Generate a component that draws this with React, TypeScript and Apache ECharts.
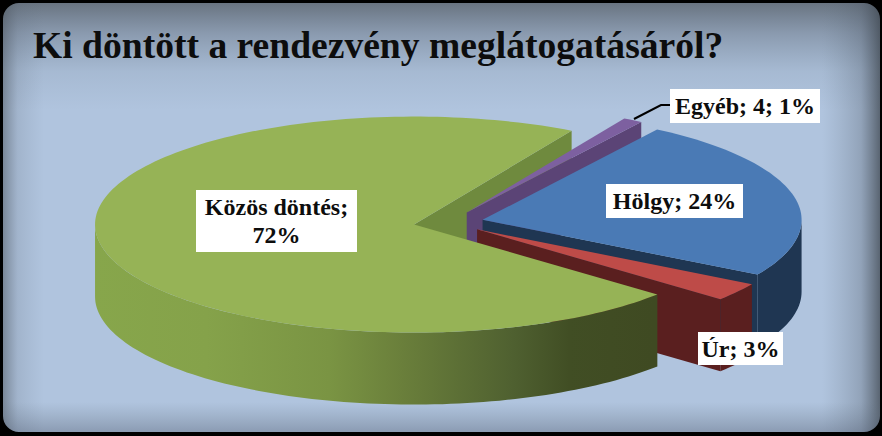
import React, { useEffect, useRef } from "react";
import * as echarts from "echarts";

const chartTitle = "Ki döntött a rendezvény meglátogatásáról?";
const categories = ["Egyéb", "Hölgy", "Úr", "Közös döntés"];
const counts = [4, 98, 11, 291];
const labelTexts = ["Egyéb; 4; 1%", "Hölgy; 24%", "Úr; 3%", "Közös döntés;\n72%"];
const topColors = ["#7d60a0", "#4a7ab5", "#be4b48", "#96b356"];
const sideColors = ["#5b4476", "#1f3652", "#5a1f1f", "#6f8a3e"];

const W = 882;
const H = 436;
const CX = 448.5;
const CY = 222.5;
const RX = 319;
const RY = 108;
const DEPTH = 72;
const EXPLODE = 35;
const START_DEG = 60.4;
const RAD = Math.PI / 180;
const total = counts.reduce((a, b) => a + b, 0);

function sliceAngles(i: number) {
  let a = START_DEG;
  for (let k = 0; k < i; k++) a -= (counts[k] / total) * 360;
  return { from: a, to: a - (counts[i] / total) * 360 };
}
function apexOf(i: number) {
  const { from, to } = sliceAngles(i);
  const mid = ((from + to) / 2) * RAD;
  return [CX + EXPLODE * Math.cos(mid), CY - EXPLODE * (RY / RX) * Math.sin(mid)];
}
function rim(apex: number[], deg: number, dz = 0) {
  return [apex[0] + RX * Math.cos(deg * RAD), apex[1] - RY * Math.sin(deg * RAD) + dz];
}
function arcPoints(apex: number[], from: number, to: number, dz = 0) {
  const n = Math.max(2, Math.ceil(Math.abs(from - to) / 1.5));
  const pts: number[][] = [];
  for (let k = 0; k <= n; k++) pts.push(rim(apex, from + ((to - from) * k) / n, dz));
  return pts;
}
function frontRanges(from: number, to: number) {
  // clockwise sweep from "from" to "to"; keep the parts with sin < 0
  const out: number[][] = [];
  for (let base = 0; base >= -720; base -= 360) {
    const hi = Math.min(from, base);
    const lo = Math.max(to, base - 180);
    if (hi > lo) out.push([hi, lo]);
  }
  return out;
}

const greenWall = () =>
  new echarts.graphic.LinearGradient(
    95, 0, 653, 0,
    [
      { offset: 0, color: "#87a64b" },
      { offset: 0.2, color: "#85a24a" },
      { offset: 0.42, color: "#7a9443" },
      { offset: 0.55, color: "#6a7f3b" },
      { offset: 0.75, color: "#4f6030" },
      { offset: 0.85, color: "#414e24" },
      { offset: 1, color: "#3f4a22" },
    ],
    true
  );

function walls(i: number) {
  const { from, to } = sliceAngles(i);
  const apex = apexOf(i);
  const children: any[] = [];
  // visible cut face: the clockwise end of the slice
  const a = rim(apex, to);
  if (Math.cos(to * RAD) > 0) {
    children.push({
      type: "polygon",
      shape: { points: [apex, a, [a[0], a[1] + DEPTH], [apex[0], apex[1] + DEPTH]] },
      style: { fill: sideColors[i] },
    });
  }
  return { children, from, to, apex };
}
function outerWall(i: number) {
  const { from, to } = sliceAngles(i);
  const apex = apexOf(i);
  return frontRanges(from, to).map(([hi, lo]) => ({
    type: "polygon",
    shape: { points: [...arcPoints(apex, hi, lo), ...arcPoints(apex, lo, hi, DEPTH)] },
    style: { fill: i === 3 ? greenWall() : sideColors[i] },
  }));
}
function topFace(i: number) {
  const { from, to } = sliceAngles(i);
  const apex = apexOf(i);
  return {
    type: "polygon",
    shape: { points: [apex, ...arcPoints(apex, from, to)] },
    style: { fill: topColors[i] },
  };
}

// paint order: back of the green slice, then the three small slices, then the green body
const paintSlice = [3, 0, 1, 2, 3];
const paintLayer = ["cut", "all", "all", "all", "body"];

function renderItem(params: any) {
  const idx = params.dataIndex;
  const i = paintSlice[idx];
  const layer = paintLayer[idx];
  const children: any[] = [];
  if (layer === "cut" || layer === "all") children.push(...walls(i).children);
  if (layer === "all" || layer === "body") {
    children.push(...outerWall(i));
    children.push(topFace(i));
  }
  return { type: "group", children };
}

const labelBoxes = [
  { x: 670, y: 89, w: 150, h: 34 },
  { x: 606, y: 184, w: 137, h: 34 },
  { x: 698, y: 332, w: 85, h: 33 },
  { x: 196, y: 190, w: 161, h: 62 },
];
const FONT = '"Liberation Serif", serif';

function edge(x: number, y: number, w: number, h: number, g: number[], stops: [number, string][]) {
  return {
    type: "rect",
    z: -9,
    silent: true,
    shape: { x, y, width: w, height: h },
    style: {
      fill: new echarts.graphic.LinearGradient(
        g[0], g[1], g[2], g[3],
        stops.map(([offset, color]) => ({ offset, color }))
      ),
    },
  };
}

export default function App() {
  const ref = useRef<HTMLDivElement>(null);
  useEffect(() => {
    document.body.style.margin = "0";
    const chart = echarts.init(ref.current!, null, { renderer: "svg" });
    chart.setOption({
      animation: false,
      title: {
        text: chartTitle,
        left: 28,
        top: 21,
        textStyle: { fontFamily: FONT, fontWeight: "bold", fontSize: 37.6, color: "#0d0d0d" },
      },
      series: [
        {
          type: "custom",
          coordinateSystem: "none",
          silent: true,
          z: 2,
          renderItem,
          data: paintSlice.map((i) => ({ name: categories[i], value: [counts[i]] })),
        },
      ],
      graphic: {
        elements: [
          {
            type: "rect", z: -10, silent: true,
            shape: { x: 0, y: 0, width: W, height: H },
            style: { fill: "#b0c4de" },
          },
          edge(0, 0, W, 110, [0, 0, 0, 1], [[0, "rgba(80,88,96,0.78)"], [0.3, "rgba(85,95,108,0.42)"], [0.65, "rgba(95,110,125,0.12)"], [1, "rgba(100,115,130,0)"]]),
          edge(0, 0, 44, H, [0, 0, 1, 0], [[0, "rgba(70,78,86,0.6)"], [0.4, "rgba(85,95,108,0.16)"], [1, "rgba(100,115,130,0)"]]),
          edge(W - 60, 0, 60, H, [1, 0, 0, 0], [[0, "rgba(60,68,76,0.8)"], [0.35, "rgba(75,85,98,0.3)"], [1, "rgba(100,115,130,0)"]]),
          edge(0, H - 34, W, 34, [0, 1, 0, 0], [[0, "rgba(80,90,110,0.45)"], [1, "rgba(100,115,130,0)"]]),
          {
            type: "rect", z: 50, silent: true,
            shape: { x: -7, y: -7, width: W + 15, height: H + 13, r: 26 },
            style: { fill: "none", stroke: "#000", lineWidth: 20 },
          },
          {
            type: "polyline", z: 20, silent: true,
            shape: { points: [[634, 119], [661, 105], [670, 105]] },
            style: { fill: "none", stroke: "#000", lineWidth: 2 },
          },
          ...labelBoxes.flatMap((b, i) => [
            {
              type: "rect", z: 20, silent: true,
              shape: { x: b.x, y: b.y, width: b.w, height: b.h },
              style: { fill: "#fff" },
            },
            {
              type: "text", z: 21, silent: true,
              x: b.x + b.w / 2,
              y: b.y + b.h / 2,
              style: {
                text: labelTexts[i],
                fill: "#0d0d0d",
                font: `bold 24px ${FONT}`,
                align: "center",
                verticalAlign: "middle",
                lineHeight: 28,
              },
            },
          ]),
        ],
      },
    });
    return () => chart.dispose();
  }, []);
  return <div ref={ref} style={{ position: "absolute", left: 0, top: 0, width: W, height: H }} />;
}
